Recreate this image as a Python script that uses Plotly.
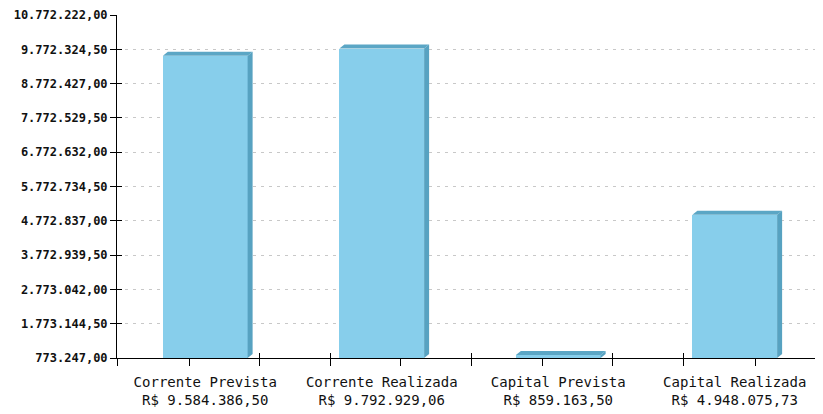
import plotly.graph_objects as go

categories = ["Corrente Prevista", "Corrente Realizada", "Capital Prevista", "Capital Realizada"]
values = [9584386.50, 9792929.06, 859163.50, 4948075.73]
value_labels = ["R$ 9.584.386,50", "R$ 9.792.929,06", "R$ 859.163,50", "R$ 4.948.075,73"]

y_tick_vals = [773247.0, 1773144.5, 2773042.0, 3772939.5, 4772837.0, 5772734.5,
               6772632.0, 7772529.5, 8772427.0, 9772324.5, 10772222.0]
y_tick_text = ["773.247,00", "1.773.144,50", "2.773.042,00", "3.772.939,50", "4.772.837,00",
               "5.772.734,50", "6.772.632,00", "7.772.529,50", "8.772.427,00", "9.772.324,50",
               "10.772.222,00"]

x_center_ticks = [-0.092, 1.109, 1.908, 3.115]
x_cross_ticks = [-0.5, 0.305, 0.707, 1.511, 2.31, 2.712]

# page body has an 8px default margin; size the figure so it fits in the window
# and the plot area sits at 117..823 / 15..358
W, H = 815, 406
ML, MR, MT, MB = 109, 0, 7, 56
ymin, ymax = y_tick_vals[0], y_tick_vals[-1]
xmin, xmax = -0.5, 3.5
bar_w = 0.48
FRONT = "#87CEEB"
SIDE = "#57A2C1"
TOP = "#5BA6C5"

px_x = (xmax - xmin) / (W - ML - MR)
px_y = (ymax - ymin) / (H - MT - MB)
dx = 5 * px_x
dy = 4 * px_y

xs = list(range(len(categories)))

fig = go.Figure()
fig.add_trace(go.Bar(x=xs, y=values, width=bar_w,
                     marker=dict(color=FRONT, line=dict(width=0)),
                     hoverinfo="skip", showlegend=False))
fig.add_trace(go.Scatter(x=[xmin], y=[ymin], xaxis="x2", yaxis="y2", mode="markers",
                         marker=dict(opacity=0), showlegend=False, hoverinfo="skip"))
fig.add_trace(go.Scatter(x=[xmin], y=[ymin], xaxis="x3", yaxis="y2", mode="markers",
                         marker=dict(opacity=0), showlegend=False, hoverinfo="skip"))

shapes = []
for x, v in zip(xs, values):
    x0 = x - bar_w / 2
    x1 = x + bar_w / 2
    top = v
    shapes.append(dict(type="path", xref="x", yref="y", layer="above",
                       path=f"M{x0},{top} L{x0+dx},{top+dy} L{x1+dx},{top+dy} L{x1},{top} Z",
                       fillcolor=TOP, line=dict(width=0)))
    shapes.append(dict(type="path", xref="x", yref="y", layer="above",
                       path=f"M{x1},{top} L{x1+dx},{top+dy} L{x1+dx},{ymin+dy} L{x1},{ymin} Z",
                       fillcolor=SIDE, line=dict(width=0)))

mono = "DejaVu Sans Mono"
fig.update_layout(
    width=W, height=H,
    margin=dict(l=ML, r=MR, t=MT, b=MB, pad=0, autoexpand=False),
    paper_bgcolor="white", plot_bgcolor="white",
    shapes=shapes,
    bargap=0,
    xaxis=dict(range=[xmin, xmax], tickvals=xs, automargin=False,
               ticktext=[f"{c}<br>{l}" for c, l in zip(categories, value_labels)],
               ticks="outside", ticklen=11, tickcolor="rgba(0,0,0,0)",
               showgrid=False, zeroline=False,
               showline=True, linecolor="black", linewidth=1,
               tickfont=dict(family=mono, size=14, color="#111")),
    yaxis=dict(range=[ymin, ymax], tickvals=y_tick_vals, ticktext=y_tick_text, automargin=False,
               ticks="outside", ticklen=6, tickcolor="black", tickwidth=1,
               showgrid=True, gridcolor="#c8c8c8", griddash="3px,5px", gridwidth=1,
               zeroline=False, showline=True, linecolor="black", linewidth=1,
               tickfont=dict(family=mono, size=12, color="#111", weight="bold")),
    xaxis2=dict(range=[xmin, xmax], overlaying="x", anchor="y2", side="bottom", automargin=False,
                tickmode="array", tickvals=x_center_ticks + x_cross_ticks,
                ticks="outside", ticklen=7, tickcolor="black", tickwidth=1,
                showticklabels=False, showgrid=False, zeroline=False, showline=False),
    xaxis3=dict(range=[xmin, xmax], overlaying="x", anchor="y2", side="bottom", automargin=False,
                tickmode="array", tickvals=x_cross_ticks,
                ticks="inside", ticklen=5, tickcolor="black", tickwidth=1,
                showticklabels=False, showgrid=False, zeroline=False, showline=False),
    yaxis2=dict(range=[ymin, ymax], overlaying="y", anchor="x2", side="left", automargin=False,
                tickmode="array", tickvals=y_tick_vals,
                ticks="inside", ticklen=5, tickcolor="black", tickwidth=1,
                showticklabels=False, showgrid=False, zeroline=False, showline=False),
)

fig.write_html("out.html")
